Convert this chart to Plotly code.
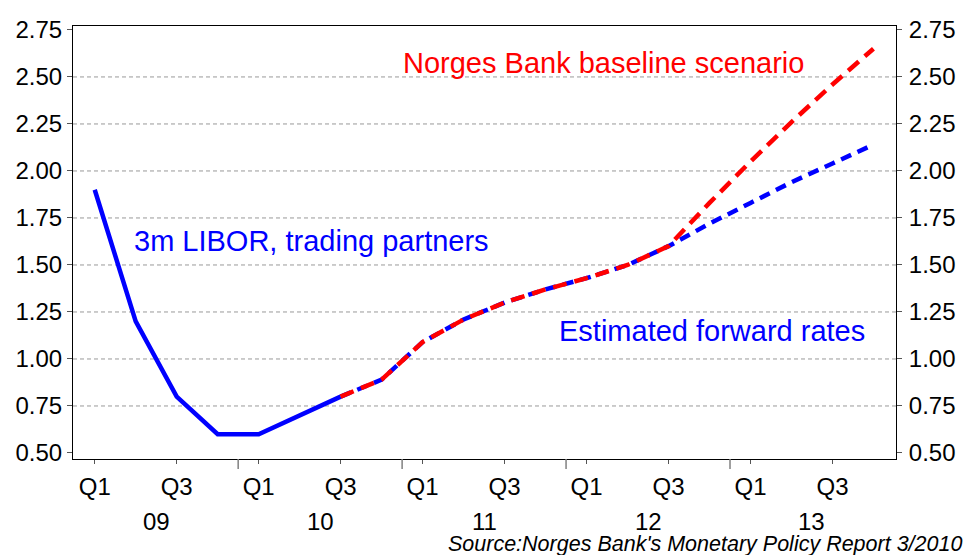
import plotly.graph_objects as go

# ---- data ----
quarters = [f"{y}Q{q}" for y in range(2009, 2014) for q in range(1, 5)]
libor_q = quarters[0:7]
libor = [1.90, 1.20, 0.80, 0.60, 0.60, 0.70, 0.80]
proj_q = quarters[6:20]
forward = [0.80, 0.89, 1.09, 1.21, 1.30, 1.37, 1.43, 1.50, 1.60, 1.72, 1.83, 1.94, 2.04, 2.14]
baseline = [0.80, 0.89, 1.09, 1.21, 1.30, 1.37, 1.43, 1.50, 1.60, 1.83, 2.05, 2.26, 2.46, 2.65]
ytick_vals = [0.50, 0.75, 1.00, 1.25, 1.50, 1.75, 2.00, 2.25, 2.50, 2.75]
grid_vals = [0.75, 1.00, 1.25, 1.50, 1.75, 2.00, 2.25, 2.50]
xtick_q = [q for q in quarters if q.endswith("Q1") or q.endswith("Q3")]
xtick_text = [q[-2:] for q in xtick_q]
year_labels = ["09", "10", "11", "12", "13"]

BLUE = "#0000FF"
RED = "#FF0000"
FONT = "Liberation Sans, Arial, sans-serif"

fig = go.Figure()
fig.add_trace(go.Scatter(x=libor_q, y=libor, mode="lines",
                         line=dict(color=BLUE, width=4.5), showlegend=False))
fig.add_trace(go.Scatter(x=proj_q, y=forward, mode="lines",
                         line=dict(color=BLUE, width=4.5, dash="11px,7px"), showlegend=False))
fig.add_trace(go.Scatter(x=proj_q, y=baseline, mode="lines",
                         line=dict(color=RED, width=4.5, dash="14px,8px"), showlegend=False))
# invisible trace for right axis
fig.add_trace(go.Scatter(x=[quarters[0]], y=[ytick_vals[0]], yaxis="y2", mode="markers",
                         marker=dict(opacity=0), showlegend=False, hoverinfo="skip"))

W, H = 965, 555
ml, mr, mt, mb = 73, 69, 26, 96
pw, ph = W - ml - mr, H - mt - mb

yrange = [0.468, 2.771]
shapes = []
for g in grid_vals:
    shapes.append(dict(type="line", xref="paper", x0=0, x1=1, yref="y", y0=g, y1=g,
                       line=dict(color="#999999", width=1, dash="4px,3px"), layer="below"))
for i in range(1, len(year_labels)):
    xb = 4 * i - 0.5
    shapes.append(dict(type="line", xref="x", x0=xb, x1=xb, yref="paper", y0=0, y1=-10 / ph,
                       line=dict(color="#808080", width=1.5)))

annotations = []
for i, yl in enumerate(year_labels):
    annotations.append(dict(x=4 * i + 1.5, xref="x", y=-(521.5 - (H - mb)) / ph, yref="paper", text=yl,
                            showarrow=False, xanchor="center", yanchor="middle",
                            font=dict(family=FONT, size=24, color="black")))
annotations += [
    dict(x=0.90, y=1.629, xref="x", yref="y", text="3m LIBOR, trading partners", showarrow=False,
         xanchor="left", yanchor="middle", font=dict(family=FONT, size=29, color=BLUE)),
    dict(x=7.48, y=2.576, xref="x", yref="y", text="Norges Bank baseline scenario", showarrow=False,
         xanchor="left", yanchor="middle", font=dict(family=FONT, size=29, color=RED)),
    dict(x=11.27, y=1.150, xref="x", yref="y", text="Estimated forward rates", showarrow=False,
         xanchor="left", yanchor="middle", font=dict(family=FONT, size=29, color=BLUE)),
    dict(x=(446 - ml) / pw, y=(H - mb - 544) / ph, xref="paper", yref="paper",
         text="<i>Source:Norges Bank's Monetary Policy Report 3/2010</i>",
         showarrow=False, xanchor="left", yanchor="middle",
         font=dict(family=FONT, size=21.5, color="black")),
]

fig.update_layout(
    template="none",
    width=W, height=H,
    margin=dict(l=ml, r=mr, t=mt, b=mb, autoexpand=False),
    paper_bgcolor="white", plot_bgcolor="white",
    font=dict(family=FONT, size=24, color="black"),
    xaxis=dict(type="category", categoryorder="array", categoryarray=quarters, automargin=False,
               range=[-0.53, 19.55], tickmode="array", tickvals=xtick_q, ticktext=xtick_text,
               showgrid=False, zeroline=False, showline=True, linecolor="black", linewidth=1,
               mirror=True, ticks="outside", ticklen=4, tickwidth=1, tickcolor="#555555",
               tickfont=dict(family=FONT, size=24, color="black"), ticklabelstandoff=2),
    yaxis=dict(range=yrange, tickmode="array", tickvals=ytick_vals, automargin=False,
               ticktext=[f"{v:.2f}" for v in ytick_vals],
               showgrid=False, zeroline=False, showline=True, linecolor="black", linewidth=1,
               mirror=True, ticks="outside", ticklen=5, tickwidth=1, tickcolor="#555555",
               tickfont=dict(family=FONT, size=24, color="black")),
    yaxis2=dict(range=yrange, overlaying="y", side="right", tickmode="array", tickvals=ytick_vals,
                automargin=False, ticktext=[f"{v:.2f}" for v in ytick_vals],
                showgrid=False, zeroline=False, showline=False, ticks="outside", ticklen=5,
                tickwidth=1, tickcolor="#555555", tickfont=dict(family=FONT, size=24, color="black"),
                ticklabelstandoff=2),
    shapes=shapes, annotations=annotations,
)
fig.write_html("out.html", config={"displayModeBar": False},
               post_script="document.body.style.margin='0';document.body.style.padding='0';")
